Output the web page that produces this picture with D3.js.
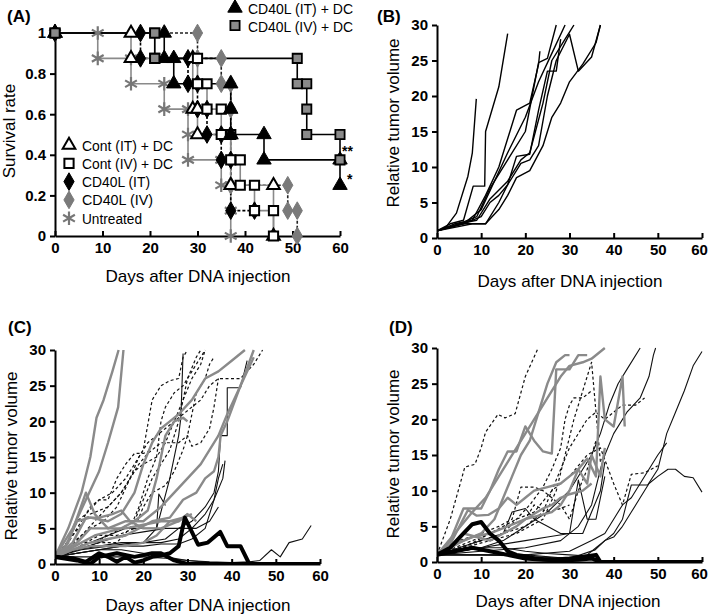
<!DOCTYPE html>
<html><head><meta charset="utf-8">
<script src="https://cdn.jsdelivr.net/npm/d3@7"></script>
<style>
body{margin:0;background:#fff}
text{font-family:"Liberation Sans",Arial,sans-serif;fill:#000}
</style></head><body>
<svg id="c" width="709" height="616"></svg>
<script>
// ---------- Panel A: survival data (day, survival rate) ----------
const survContIT   = [[0,1],[16,1],[16,0.875],[29,0.875],[29,0.625],[30,0.625],[30,0.5],[37,0.5],[37,0.25],[46,0.25],[46,0]];
const survContIV   = [[0,1],[21,1],[21,0.875],[30,0.875],[30,0.75],[32,0.75],[32,0.625],[35,0.625],[35,0.5],[37,0.5],[37,0.375],[39,0.375],[39,0.25],[42,0.25],[42,0.125],[46,0.125],[46,0]];
const survCD40IT   = [[0,1],[18,1],[18,0.875],[28,0.875],[28,0.75],[30,0.75],[30,0.625],[32,0.625],[32,0.5],[35,0.5],[35,0.375],[37,0.375],[37,0.125],[42,0.125]];
const survCD40IV   = [[0,1],[30,1],[30,0.875],[35,0.875],[35,0.75],[37,0.75],[37,0.625],[37,0.25],[49,0.25],[49,0.125],[51,0.125],[51,0]];
const survUntreated= [[0,1],[9,1],[9,0.875],[16,0.875],[16,0.75],[23,0.75],[23,0.625],[28,0.625],[28,0.5],[28,0.375],[35,0.375],[35,0.25],[37,0.25],[37,0.125],[37,0]];
const survCD40ITDC = [[0,1],[23,1],[23,0.875],[25,0.875],[25,0.75],[37,0.75],[37,0.625],[37,0.5],[44,0.5],[44,0.375],[60,0.375],[60,0.25]];
const survCD40IVDC = [[0,1],[21,1],[21,0.875],[51,0.875],[51,0.75],[53,0.75],[53,0.625],[53,0.5],[60,0.5],[60,0.375]];
const survTicksY = [0,0.2,0.4,0.6,0.8,1];
const dayTicks = [0,10,20,30,40,50,60];
const volTicks = [0,5,10,15,20,25,30];
const legendTopLabels = ["CD40L  (IT)  + DC","CD40L  (IV)  + DC"];
const legendBottomLabels = ["Cont  (IT)  + DC","Cont  (IV)  + DC","CD40L  (IT)","CD40L  (IV)","Untreated"];

// ---------- Panel B: untreated tumor growth ----------
const volB = [
 [[0,1],[2,1.5],[4.4,3.5],[7,8.7],[8,12],[8.9,19.6]],
 [[0,1],[3,2],[6,2.5],[8.2,7.3],[10.8,7.3],[11,15],[14,21.3],[16,28.8]],
 [[0,1],[4,2],[8,2.5],[11,6],[14,10],[18,18],[21,19],[23,24.5],[23.3,26.3]],
 [[0,1],[5,2],[9,3],[12,7],[16,11],[20,15],[23,24.7],[25,25.3],[27,30]],
 [[0,1],[5,2],[11,2],[14,5],[16,7.5],[18,11.5],[21,11.8],[23,18],[25,23.5],[27,23.5],[28,28]],
 [[0,1],[6,2],[10,3],[12,5],[14,6],[16,7.5],[19,10.5],[21,11],[23,13],[25,20],[27,25],[30,28.7],[32,23.5],[35,25.5],[37,30]],
 [[0,1],[4,1.5],[8,2],[11,2],[14,4],[16,6],[18,8.5],[21,9.5],[24,13],[26,17],[28,19],[30,22],[33,24.5],[36,27.5],[37,30]],
 [[0,1],[5,2],[9,2.5],[12,5.5],[16,8],[19,11],[21,12],[24,19],[26,25],[29,28],[30,29],[31,30]],
 [[0,1],[6,2],[10,4],[13,8],[16,12],[20,17],[23,22],[26,26],[29,30]]
];

// ---------- Panel C ----------
const volCgray = [
 [[0,1],[3,5],[6,10],[8,15],[9.4,20.5],[11,23],[13,27],[14.4,30]],
 [[0,1],[4,5],[7,9],[10,13],[12,17],[14.3,22],[15.5,30]],
 [[0,1],[3,3],[7,10],[9,7],[12,5],[16,6],[20,6],[24,8],[27,10],[30,12],[33,14],[35,16],[37,18],[39,21],[42,25],[45,30]],
 [[0,1],[2,2],[5,6],[8,6.5],[12,6],[15,7],[18,10],[20,14],[22,17],[24,19],[26,20],[28,21],[31,23],[34,26],[37,27],[40,28.5],[43,30]],
 [[0,1],[3,2],[6,3],[9,4],[12,4.5],[15,5],[18,6],[21,7.5],[23,12],[25,18],[27,20],[29,20.5],[30,20]],
 [[0,1],[4,2],[8,3],[12,3.5],[16,4],[19,5],[22,6],[26,6.5],[29,9],[32,10],[34,12],[36,13],[37,15],[37.5,18],[39,20],[42,25],[45,29]],
 [[0,1],[5,3],[8,5],[12,5],[16,5],[20,5.5],[24,6],[28,6],[30,7],[32,6]],
 [[0,1],[4,2],[8,2.5],[12,2.5],[16,2.5],[20,3],[23,4],[26,6],[29,6.5],[31,7]],
 [[0,1],[4,3],[7,6.5],[10,6.5],[13,7],[15,7.5],[17,6],[20,5],[24,5],[28,6],[30,7]]
];
const volCdash = [
 [[0,1],[3,3],[5,6],[7,7],[10,9],[13,10],[16,12],[18,14],[20,16],[22,23],[24,25],[26,25.7],[28,26],[29,29],[30,30]],
 [[0,1],[4,4],[8,7],[12,8],[15,10],[18,13],[20,14],[23,15],[25,17],[27,20],[29,23],[31,26],[33,28],[34,30]],
 [[0,1],[3,2],[6,4],[9,6],[12,8],[15,10],[17,12],[19,15],[21,17],[23,18],[25,19],[27,20],[29,21],[31,22],[33,23],[35,25],[37,26],[40,26],[42,26],[45,28],[47,30]],
 [[0,1],[4,3],[8,5],[11,6],[14,8],[17,12],[19,14],[21,15.5],[24,17],[28,17],[30,18],[31,16.5],[33,17],[35,19],[36,22],[37,26]],
 [[0,1],[3,2],[6,3],[9,3],[12,4],[15,5],[18,6],[20,9],[22,12],[24,14],[26,16],[28,20],[30,26],[32,29],[33,30]],
 [[0,1],[3,1.5],[7,3],[10,4],[14,4],[18,5],[20,8],[22,10],[25,11],[27,13],[29,16],[30,18],[31,21],[32,24],[34,26],[35,28],[36,29]],
 [[0,1],[5,2],[10,3],[14,3],[17,5],[19,8],[21,12],[23,15],[24,20],[25,22],[27,24],[29,25],[31,27],[33,29],[34,30]],
 [[0,1],[3,3],[6,6],[8,8],[10,9],[12,9],[14,12],[16,14],[18,15.5],[20,15.5],[22,16]]
];
const volCthin = [
 [[0,1],[5,2],[10,2.5],[15,3],[20,3],[25,3.5],[28,5],[31,6],[34,8],[36,10],[37,13],[37.5,18],[39,18],[39,24.7],[42,24.7],[43.5,28.5]],
 [[0,1],[5,1.5],[10,2],[15,2.5],[20,3],[23,5],[26,12],[28,18],[28.5,20.5],[29,29.5]],
 [[0,1],[5,1.5],[10,2],[15,2.5],[20,2.5],[24,2.8],[28,2.8],[31,3.5],[34,5],[36,9],[37,12],[38,14]],
 [[0,1],[5,1],[10,1],[15,1],[20,1],[25,0.8],[30,0.5],[35,0.3],[40,0.2],[44,0.3],[46.4,0.5],[49,2],[51,1],[53,3],[56,3.5],[58,5.4]],
 [[0,1],[5,1.5],[10,2],[15,2],[20,1.5],[25,1],[30,0.5],[35,0.2],[40,0]],
 [[0,1],[4,2],[8,3],[12,4],[16,5],[20,5],[23,5],[23.5,9.8],[25,8.2]],
 [[0,1],[6,2],[12,2.5],[18,3],[24,3],[28,3.5],[31,5],[34,7],[36,9],[38,12],[38.5,14.5]],
 [[0,1],[5,2],[10,3],[15,4],[20,4.5],[25,5],[28,5],[32,5],[35,6],[37,8]]
];
const volCthick = [
 [[0,1],[4,0.8],[7,0.3],[10,1.5],[12,1],[14,0.3],[16,1],[18,0.2],[20,0.5],[22,1],[24,1.2],[26,1.5],[28,2.5],[29.4,6.5],[32.4,2.7],[34.6,3],[37.4,4.5],[39,2.5],[42,2.5],[44,0],[60,0]],
 [[0,1],[5,0.5],[8,0],[10,1],[14,1.5],[18,1],[22,1.5],[24,1.5],[27,0.5],[30,0],[45,0]]
];

// ---------- Panel D ----------
const volDgray = [
 [[0,1],[3,3],[6,7.5],[8,7.5],[10,7.5],[12,10],[14,13],[16,15.5],[18,15.5],[20,19],[22,17],[24,15.5],[26,15.2],[27,27],[30,27],[32,29],[34,29]],
 [[0,1],[4,4],[8,7],[11,9],[14,12],[16,14],[18,16],[20,18],[22,20],[24,22],[26,24],[28,26],[30,27.5],[33,28],[35,28.5],[38,30]],
 [[0,1],[3,2.5],[7,7.3],[9,6.5],[11.6,6.6],[14,7.5],[16,9],[18,8],[20,9],[22,10],[25,10.5],[28,11],[30,12],[32,13],[34,11],[35,15],[37,12],[38,16]],
 [[0,1],[3,2],[6,4],[9,3.5],[12,3],[15,4],[18,5],[20,6],[23,6.5],[26,7],[28,8],[30,10],[32,13],[34,14.5],[36,12],[37,26],[38,20],[40,19],[42,26],[42.5,19]],
 [[0,1],[4,2.5],[8,3.5],[12,4],[16,5],[20,6],[24,7.5],[26,8],[28,9],[30,9.5],[33,10],[35,11]],
 [[0,1],[3,2],[6,3],[10,4],[13,6],[15,9],[17,12],[19,15],[21,17],[23,21],[25,25],[27,28],[29,29],[30,29]]
];
const volDdash = [
 [[0,1],[3,6],[6.3,13.3],[8.6,13.7],[10,16],[11,18.2],[13.8,20.7],[15.4,20.2],[17.7,20.8],[20,26],[22.9,30]],
 [[0,1],[5,3],[10,4],[14,5],[17,6],[19,10.5],[22,10.5],[24,10],[26,9],[28,8],[30,6],[32,10],[34,13],[35,15],[36,17]],
 [[0,1],[6,2],[12,3],[18,4],[24,6],[27,10],[29,15],[31,20],[33,24],[35,28],[37,14],[38,15]],
 [[0,1],[5,2],[10,3],[15,4],[20,5],[24,7],[26,10],[28,13],[30,16],[32,18],[34,20],[36,21],[38,20],[40,21],[42,22],[45,22],[47,23]],
 [[0,1],[6,2],[12,4],[18,6],[22,7],[26,10],[30,12],[34,15],[37,16],[40,11],[42,8],[44,12.3],[47,12.5],[50,13.5]],
 [[0,1],[5,2],[10,3],[15,4],[18,6],[21,8],[24,10.5],[26,13],[28,16],[29,20],[30,22],[31,23],[33,23],[35,24]],
 [[0,1],[4,2],[8,3],[12,4],[16,5],[20,6],[22,8],[25,7],[28,7.5],[30,8]]
];
const volDthin = [
 [[0,1],[5,1.5],[10,2],[15,3],[20,5],[25,7],[30,10],[33,13],[35,15],[37,18],[39,22],[41,25],[43,27],[46,30]],
 [[0,1],[10,1.5],[20,2],[28,3],[32,5],[35,8],[37,13],[38,15],[40,18],[43,21],[46,23],[48,26],[49,29],[49.5,30]],
 [[0,1],[10,1],[20,1],[30,0.5],[35.8,1.7],[38,3],[40,4],[42,6],[44,10.8],[47.7,10.8],[50,13],[52,18],[54,21],[56,24],[58,27.5],[60,29.5]],
 [[0,1],[10,1],[20,0.8],[30,0.5],[34,1],[36,2],[38,3],[40,3.5],[42,5],[44,7],[46,9],[48,11],[50,12],[52.3,13],[54,13],[56,12],[58,11.8],[60,9.8]],
 [[0,1],[10,1],[20,1],[30,1.5],[35,3],[38,4],[40,6],[42,8],[44,9],[46,11],[48,13],[50,15],[52,16.7]],
 [[0,1],[5,2],[10,3],[15,4],[17,7],[20,7.5],[22,6],[25,5],[28,4],[30,4],[32,11.5],[34,6],[36,6],[38,12]],
 [[0,1],[5,1.5],[10,2],[15,2.5],[20,3],[25,3.5],[30,4],[33,4],[35,7],[37,10],[38,14]],
 [[0,1],[5,1.5],[10,2],[15,2],[20,1.5],[25,1.2],[30,1],[35,0.8],[37,0]]
];
const volDthick = [
 [[0,1],[3,2],[6,4],[8,5.3],[10,5.6],[12,4],[14,3],[16,1.5],[18,1],[20,0.8],[22,0.5],[26,0.3],[30,0.5],[34,0.8],[36,1],[37,0],[60,0]],
 [[0,1],[4,1.5],[8,2],[12,1.5],[16,1],[20,0.5],[24,0.3],[28,0.2],[32,0.3],[35,0.5],[37,0]]
];

// ---------- drawing ----------
const svg = d3.select("#c");
const GRAY = "#8a8a8a";
const fontT = 15;

function styleAxis(a){
  a.selectAll("path.domain").attr("stroke","#000").attr("stroke-width",2);
  a.selectAll(".tick line").attr("stroke","#000").attr("stroke-width",2);
  a.selectAll(".tick text").attr("font-size",fontT).attr("font-weight","bold")
    .attr("font-family","'Liberation Sans',Arial,sans-serif").attr("fill","#000");
}

function axes(x, y, yTicks, yFmt){
  const xa = svg.append("g").attr("transform",`translate(0,${y.range()[0]})`)
    .call(d3.axisBottom(x).tickValues(dayTicks).tickSizeInner(-5).tickSizeOuter(0).tickPadding(6));
  styleAxis(xa);
  // keep the last tick label inside the page
  xa.selectAll(".tick text").filter(d=>d===60 && x(60)>690).attr("dx",-3);
  const ya = svg.append("g").attr("transform",`translate(${x.range()[0]},0)`)
    .call(d3.axisLeft(y).tickValues(yTicks).tickSizeInner(5).tickSizeOuter(0).tickPadding(4).tickFormat(yFmt));
  styleAxis(ya);
}

function titles(lbl, lx, ly, ytitle, yx, yy, xx, xy){
  svg.append("text").attr("x",lx).attr("y",ly).attr("font-size",17).attr("font-weight","bold").text(lbl);
  svg.append("text").attr("transform",`translate(${yx},${yy}) rotate(-90)`).attr("text-anchor","middle")
    .attr("font-size",17).text(ytitle);
  svg.append("text").attr("x",xx).attr("y",xy).attr("text-anchor","middle").attr("font-size",17)
    .attr("textLength",185).attr("lengthAdjust","spacingAndGlyphs").text("Days after DNA injection");
}

// ----- Panel A -----
const xA = d3.scaleLinear().domain([0,60]).range([55,340]);
const yA = d3.scaleLinear().domain([0,1]).range([236,33]);
const lineA = d3.line().x(d=>xA(d[0])).y(d=>yA(d[1]));

const seriesA = [
  {data:survUntreated, stroke:GRAY, dash:null, sym:d3.symbolAsterisk, size:130, fill:"none", mstroke:"#777", msw:2.2},
  {data:survCD40IV, stroke:"#222", dash:"3,2", sym:d3.symbolDiamond, size:90, fill:"#7a7a7a", mstroke:"#7a7a7a", msw:1},
  {data:survCD40IT, stroke:"#000", dash:"3,2", sym:d3.symbolDiamond, size:90, fill:"#000", mstroke:"#000", msw:1},
  {data:survContIT, stroke:GRAY, dash:null, sym:d3.symbolTriangle, size:70, fill:"#fff", mstroke:"#000", msw:2},
  {data:survContIV, stroke:GRAY, dash:null, sym:d3.symbolSquare, size:85, fill:"#fff", mstroke:"#000", msw:2},
  {data:survCD40ITDC, stroke:"#000", dash:null, sym:d3.symbolTriangle, size:90, fill:"#000", mstroke:"#000", msw:1},
  {data:survCD40IVDC, stroke:"#000", dash:null, sym:d3.symbolSquare, size:85, fill:"#8a8a8a", mstroke:"#000", msw:1.8}
];
axes(xA, yA, survTicksY, d3.format("~g"));
seriesA.forEach(s=>{
  svg.append("path").datum(s.data).attr("d",lineA).attr("fill","none").attr("stroke",s.stroke)
    .attr("stroke-width",1.6).attr("stroke-dasharray",s.dash);
});
seriesA.forEach(s=>{
  svg.append("g").selectAll("path").data(s.data).join("path")
    .attr("transform",d=>`translate(${xA(d[0])},${yA(d[1])})`)
    .attr("d",d3.symbol().type(s.sym).size(s.size))
    .attr("fill",s.fill).attr("stroke",s.mstroke).attr("stroke-width",s.msw);
});
// significance marks
svg.append("text").attr("x",342).attr("y",156).attr("font-size",14).attr("font-weight","bold").text("**");
svg.append("text").attr("x",347).attr("y",184).attr("font-size",14).attr("font-weight","bold").text("*");
// legends
const topLen = [105,105];
const legTop = [seriesA[5], seriesA[6]];
legTop.forEach((s,i)=>{
  const yy = 8 + i*17.5;
  svg.append("path").attr("transform",`translate(235,${yy})`).attr("d",d3.symbol().type(s.sym).size(s.size))
    .attr("fill",s.fill).attr("stroke",s.mstroke).attr("stroke-width",s.msw);
  svg.append("text").attr("x",248).attr("y",yy+6).attr("font-size",14)
    .attr("textLength",topLen[i]).attr("lengthAdjust","spacingAndGlyphs").text(legendTopLabels[i]);
});
const botLen = [91,91,68,71,60];
const legBot = [seriesA[3], seriesA[4], seriesA[2], seriesA[1], seriesA[0]];
legBot.forEach((s,i)=>{
  const yy = 145 + i*18.3;
  svg.append("path").attr("transform",`translate(69,${yy})`).attr("d",d3.symbol().type(s.sym).size(s.size))
    .attr("fill",s.fill).attr("stroke",s.mstroke).attr("stroke-width",s.msw);
  svg.append("text").attr("x",82).attr("y",yy+5.5).attr("font-size",14)
    .attr("textLength",botLen[i]).attr("lengthAdjust","spacingAndGlyphs").text(legendBottomLabels[i]);
});
titles("(A)", 7, 22, "Survival rate", 15, 131, 198, 282);

// ----- line panels -----
let clipId = 0;
function linePanel(xr, yr, groups){
  const x = d3.scaleLinear().domain([0,60]).range(xr);
  const y = d3.scaleLinear().domain([0,30]).range(yr);
  const id = "clip"+(clipId++);
  svg.append("clipPath").attr("id",id).append("rect")
    .attr("x",xr[0]).attr("y",yr[1]-2).attr("width",xr[1]-xr[0]+4).attr("height",yr[0]-yr[1]+3);
  const line = d3.line().x(d=>x(d[0])).y(d=>y(Math.min(d[1],30)));
  const g = svg.append("g").attr("clip-path",`url(#${id})`);
  groups.forEach(gr=>{
    g.append("g").selectAll("path").data(gr.data).join("path")
      .attr("d",line).attr("fill","none").attr("stroke",gr.stroke).attr("stroke-width",gr.sw)
      .attr("stroke-dasharray",gr.dash||null).attr("stroke-linejoin","round");
  });
  axes(x, y, volTicks, d3.format("d"));
}

linePanel([437,702],[238,25],[{data:volB, stroke:"#000", sw:1.4}]);
titles("(B)", 377, 22, "Relative tumor volume", 399, 123, 570, 287);

linePanel([55,320],[564,350],[
  {data:volCdash, stroke:"#111", sw:1.2, dash:"3,2.5"},
  {data:volCthin, stroke:"#111", sw:1.1},
  {data:volCgray, stroke:GRAY, sw:2.4},
  {data:volCthick, stroke:"#000", sw:4}
]);
titles("(C)", 8, 333, "Relative tumor volume", 17, 456, 198, 611);

linePanel([437,702],[562,348],[
  {data:volDdash, stroke:"#111", sw:1.2, dash:"3,2.5"},
  {data:volDthin, stroke:"#111", sw:1.1},
  {data:volDgray, stroke:GRAY, sw:2.4},
  {data:volDthick, stroke:"#000", sw:4}
]);
titles("(D)", 389, 333, "Relative tumor volume", 399, 454, 568, 607);
</script>
</body></html>
